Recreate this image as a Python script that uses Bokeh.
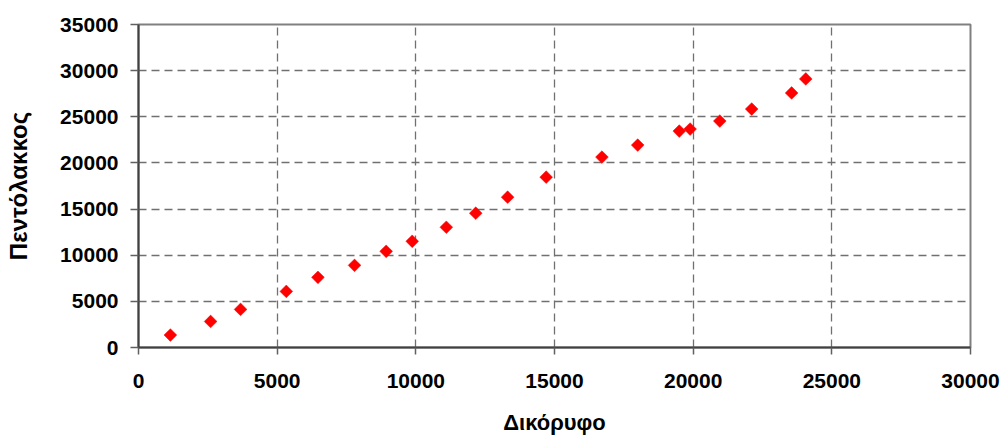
import numpy as np
from bokeh.plotting import figure
from bokeh.models import ColumnDataSource, SingleIntervalTicker, Range1d
from bokeh.embed import file_html
from bokeh.resources import INLINE

# Data
dikoryfo = [1150, 2600, 3680, 5330, 6470, 7790, 8930, 9870, 11100, 12160,
            13310, 14700, 16710, 18000, 19500, 19890, 20960, 22110, 23550, 24060]
pentolakkos = [1350, 2820, 4130, 6080, 7600, 8900, 10420, 11510, 13030, 14550,
               16290, 18460, 20630, 21930, 23450, 23670, 24540, 25840, 27580, 29100]

x_label = "Δικόρυφο"
y_label = "Πεντόλακκος"

src = ColumnDataSource(dict(x=dikoryfo, y=pentolakkos))

p = figure(width=1007, height=437, output_backend="svg", toolbar_location=None,
           x_range=Range1d(0, 30000), y_range=Range1d(0, 35000),
           min_border_left=138, min_border_right=37, min_border_top=24,
           min_border_bottom=90)

p.scatter("x", "y", source=src, marker="square", size=9, angle=np.pi / 4,
          fill_color="#FF0000", line_color="#FF0000", line_width=0.5)

font = "Liberation Sans"
for ax in (p.xaxis[0], p.yaxis[0]):
    ax.ticker = SingleIntervalTicker(interval=5000)
    ax.minor_tick_line_color = None
    ax.major_tick_in = 0
    ax.major_tick_line_color = "#606060"
    ax.major_tick_line_width = 1.5
    ax.axis_line_color = "#404040"
    ax.axis_line_width = 2
    ax.major_label_text_font = font
    ax.major_label_text_font_style = "bold"
    ax.major_label_text_font_size = "21px"
    ax.major_label_text_color = "black"
    ax.axis_label_text_font = font
    ax.axis_label_text_font_style = "bold"
    ax.axis_label_text_color = "black"

p.xaxis[0].axis_label = x_label
p.yaxis[0].axis_label = y_label
p.xaxis[0].axis_label_text_font_size = "22px"
p.yaxis[0].axis_label_text_font_size = "24px"
p.xaxis[0].major_tick_out = 7
p.yaxis[0].major_tick_out = 8
p.xaxis[0].major_label_standoff = 19
p.yaxis[0].major_label_standoff = 12
p.xaxis[0].axis_label_standoff = 19
p.yaxis[0].axis_label_standoff = 25

for g in (p.xgrid[0], p.ygrid[0]):
    g.grid_line_color = "#707070"
    g.grid_line_dash = "8 5"
    g.grid_line_width = 1.3

p.outline_line_color = "#808080"
p.outline_line_width = 2
p.background_fill_color = "white"
p.border_fill_color = "white"

open("out.html", "w").write(file_html(p, INLINE))
